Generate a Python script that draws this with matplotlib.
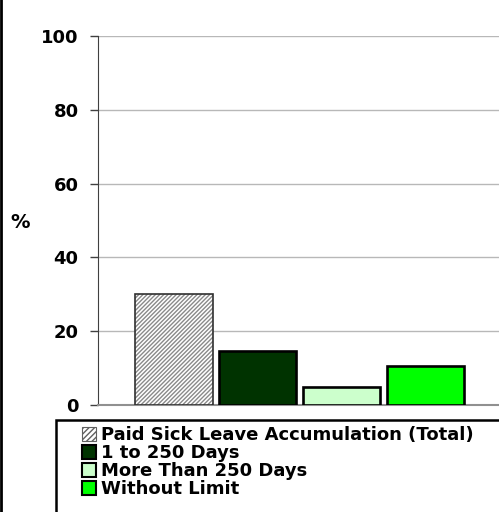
import matplotlib.pyplot as plt
from matplotlib.patches import Patch, Rectangle
from matplotlib.lines import Line2D

plt.rcParams['font.family'] = ['DejaVu Sans']
plt.rcParams['font.weight'] = 'bold'
plt.rcParams['hatch.linewidth'] = 1.0

categories = ['Paid Sick Leave Accumulation (Total)', '1 to 250 Days',
              'More Than 250 Days', 'Without Limit']
values = [30, 14.6, 4.8, 10.6]
colors = ['white', '#003300', '#ccffcc', '#00ff00']
yticks = [0, 20, 40, 60, 80, 100]

fig = plt.figure(figsize=(4.99, 5.12), dpi=100)
ax = fig.add_axes([98 / 499, 1 - 405 / 512, 1 - 98 / 499, 369 / 512])

width = 0.917
for i, (v, c) in enumerate(zip(values, colors)):
    if i == 0:
        # hatched total bar: fill first, thin dark outline on top
        ax.bar(i, v, width, color='white', edgecolor='#8a8a8a', hatch='////////',
               linewidth=0, zorder=3)
        ax.bar(i, v, width, color='none', edgecolor='#303030', linewidth=1.2, zorder=4)
    else:
        ax.bar(i, v, width, color=c, edgecolor='black', linewidth=1.9, zorder=3)

ax.set_xlim(-0.905, 3.87)
ax.set_ylim(0, 100)
ax.set_yticks(yticks)
ax.set_yticklabels([str(t) for t in yticks], fontsize=13, fontweight='bold')
ax.tick_params(axis='y', length=6, width=1, color='#404040', pad=8)
ax.tick_params(axis='x', length=0, labelbottom=False)
ax.yaxis.grid(True, color='#b8b8b8', linewidth=1, zorder=0)
ax.set_axisbelow(True)
for side in ['top', 'right']:
    ax.spines[side].set_visible(False)
ax.spines['left'].set_color('#404040')
ax.spines['bottom'].set_color('#909090')
ax.spines['bottom'].set_linewidth(1.5)

fig.text(20 / 499, 1 - 222 / 512, '%', fontsize=14, fontweight='bold',
         ha='center', va='center')

# left border of the chart area
fig.add_artist(Line2D([0.002, 0.002], [0, 1], color='black', linewidth=2,
                      transform=fig.transFigure))

# legend frame runs off the right and bottom edges
fig.add_artist(Rectangle((56 / 499, -0.05), 0.95, 0.05 + (512 - 420) / 512,
                         transform=fig.transFigure, facecolor='white',
                         edgecolor='black', linewidth=1.8))

handles = [Patch(facecolor='white', edgecolor='#606060', hatch='//////', linewidth=0.8)]
handles += [Patch(facecolor=c, edgecolor='black', linewidth=1.5) for c in colors[1:]]
fig.legend(handles, categories, loc='upper left',
           bbox_to_anchor=(82 / 499, 1 - 426 / 512), frameon=False,
           prop={'size': 13, 'weight': 'bold'}, handlelength=0.78,
           handleheight=0.78, handletextpad=0.25, labelspacing=0.0,
           borderpad=0, borderaxespad=0)

fig.savefig('out.png', dpi=100)
